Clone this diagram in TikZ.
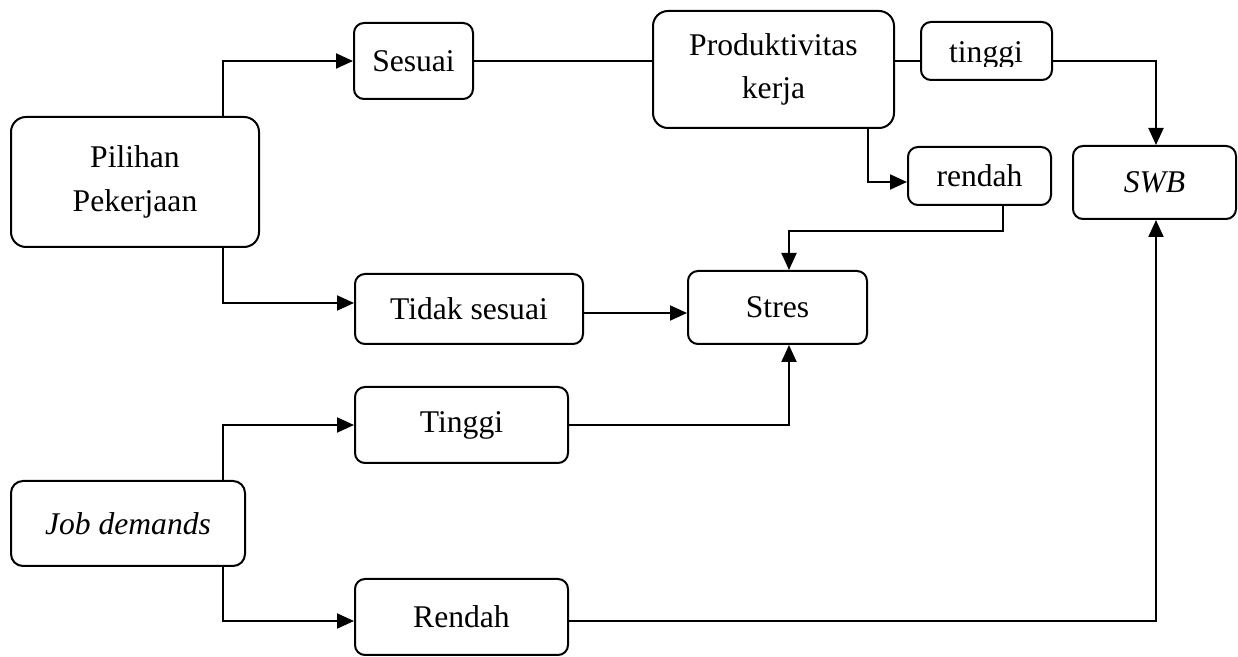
\documentclass[tikz,border=0pt]{standalone}
\usepackage{fontspec}
\setmainfont{Liberation Serif}
\usetikzlibrary{arrows.meta}
\tikzset{
  box/.style={draw, line width=1pt, rounded corners=5pt, inner sep=0pt, align=center,
    font=\fontsize{15.8}{21.75}\selectfont},
  bigbox/.style={box, rounded corners=7.5pt},
  link/.style={line width=1pt},
  arr/.style={line width=1pt, -{Triangle[length=8.5pt,width=7.5pt]}}
}
\begin{document}
\begin{tikzpicture}[x=0.5pt,y=-0.5pt]
\useasboundingbox (0,0) rectangle (1238,657);
% nodes
\node[bigbox, minimum width=124pt, minimum height=65pt] (pil) at (135,182) {Pilihan\\Pekerjaan};
\node[box, minimum width=59.5pt, minimum height=38pt] (ses) at (413.5,61) {Sesuai};
\node[bigbox, minimum width=120.5pt, minimum height=58.5pt] (prod) at (773.5,69.5) {Produktivitas\\kerja};
\node[box, minimum width=65.5pt, minimum height=29pt] (ting) at (986.5,51) {};
\begin{scope}
  \clip (900,0) rectangle (1060,67);
  \node[font=\fontsize{15.8}{21.75}\selectfont, anchor=base, inner sep=0pt] (tingt) at (986,63) {tinggi};
\end{scope}
\node[box, minimum width=71.5pt, minimum height=29pt] (ren) at (979.5,176) {rendah};
\node[box, minimum width=81.5pt, minimum height=36.5pt] (swb) at (1154.5,182.5) {\textit{SWB}};
\node[box, minimum width=114pt, minimum height=35pt] (tds) at (469,309) {Tidak sesuai};
\node[box, minimum width=89.5pt, minimum height=36.5pt] (str) at (777.5,307.5) {Stres};
\node[bigbox, rounded corners=6pt, minimum width=117pt, minimum height=42.5pt] (jd) at (128,523.5) {\textit{Job demands}};
\node[box, minimum width=106.5pt, minimum height=38pt] (tg) at (461.5,425) {Tinggi};
\node[box, minimum width=106.5pt, minimum height=38pt] (rd) at (461.5,617) {Rendah};
\coordinate (tr) at (223,0);
% connectors
\draw[arr] (pil.north -| tr) |- (ses.west);
\draw[arr] (pil.south -| tr) |- ([yshift=3pt]tds.west);
\draw[link] (ses.east) -- (ses.east -| prod.west);
\draw[link] (prod.east |- ses.east) -- (ting.west |- ses.east);
\draw[arr] (ting.east |- ses.east) -| ([xshift=0.75pt]swb.north);
\draw[arr] ([xshift=47.25pt]prod.south) |- ([yshift=-3pt]ren.west);
\draw[arr] ([xshift=11.75pt]ren.south) -- ++(0,25) -| ([xshift=5.75pt]str.north);
\draw[arr] ([yshift=-2pt]tds.east) -- ([yshift=-2pt]tds.east -| str.west);
\draw[arr] (jd.north -| tr) |- (tg.west);
\draw[arr] (jd.south -| tr) |- ([yshift=-2pt]rd.west);
\draw[arr] (tg.east) -| ([xshift=5.75pt]str.south);
\draw[arr] ([yshift=-2pt]rd.east) -| ([xshift=0.75pt]swb.south);
\end{tikzpicture}
\end{document}
